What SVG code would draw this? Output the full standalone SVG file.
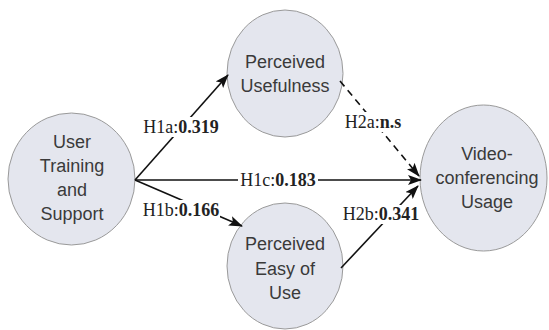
<svg xmlns="http://www.w3.org/2000/svg" width="549" height="330" viewBox="0 0 549 330">
<style>
.node{fill:#e4e6ee;stroke:#9a9a9a;stroke-width:1}
.nt{font-family:"Liberation Sans",Arial,sans-serif;font-size:18px;fill:#3a3a3a;text-anchor:middle}
.edge{stroke:#111;stroke-width:1.6;fill:none}
.lbl{font-family:"Liberation Serif","Times New Roman",serif;font-size:18px;fill:#222;text-anchor:middle}
.lbl tspan.b{font-weight:bold}
.bg{fill:#fff}
</style>
<defs>
<marker id="ah" viewBox="0 0 14 10" refX="13" refY="5" markerWidth="14" markerHeight="10" markerUnits="userSpaceOnUse" orient="auto">
<path d="M0,0 L14,5 L0,10 L3,5 z" fill="#111"/>
</marker>
</defs>
<rect width="549" height="330" fill="#fff"/>
<g id="n-uts">
<ellipse class="node" cx="71.5" cy="179" rx="63.5" ry="66"/>
<text class="nt" x="72" y="148">User</text>
<text class="nt" x="72" y="172">Training</text>
<text class="nt" x="72" y="196">and</text>
<text class="nt" x="72" y="220">Support</text>
</g>
<g id="n-pu">
<ellipse class="node" cx="285" cy="73.5" rx="58" ry="63.5"/>
<text class="nt" x="285" y="68">Perceived</text>
<text class="nt" x="285" y="92">Usefulness</text>
</g>
<g id="n-peu">
<ellipse class="node" cx="285" cy="266" rx="58" ry="63"/>
<text class="nt" x="285" y="250">Perceived</text>
<text class="nt" x="285" y="275">Easy of</text>
<text class="nt" x="285" y="299">Use</text>
</g>
<g id="n-vcu">
<ellipse class="node" cx="483.5" cy="178" rx="63.5" ry="73"/>
<text class="nt" x="487" y="160">Video-</text>
<text class="nt" x="487" y="184">conferencing</text>
<text class="nt" x="487" y="208">Usage</text>
</g>
<g id="connectors">
<line class="edge" x1="135" y1="180" x2="228" y2="75" marker-end="url(#ah)"/>
<line class="edge" x1="135" y1="180" x2="421" y2="180" marker-end="url(#ah)"/>
<line class="edge" x1="135" y1="180" x2="242" y2="226" marker-end="url(#ah)"/>
<line class="edge" x1="340" y1="81" x2="419" y2="176" stroke-dasharray="7,5" marker-end="url(#ah)"/>
<line class="edge" x1="341" y1="268" x2="418" y2="186" marker-end="url(#ah)"/>
<rect class="bg" x="142" y="117" width="78" height="20"/>
<rect class="bg" x="238" y="171" width="80" height="18"/>
<rect class="bg" x="142" y="200" width="78" height="20"/>
<rect class="bg" x="350" y="112" width="46" height="20"/>
<rect class="bg" x="341" y="205" width="80" height="19"/>
<text class="lbl" x="181" y="133">H1a:<tspan class="b">0.319</tspan></text>
<text class="lbl" x="278" y="186">H1c:<tspan class="b">0.183</tspan></text>
<text class="lbl" x="181" y="216">H1b:<tspan class="b">0.166</tspan></text>
<text class="lbl" x="373" y="128">H2a:<tspan class="b">n.s</tspan></text>
<text class="lbl" x="381" y="220">H2b:<tspan class="b">0.341</tspan></text>
</g>
</svg>
